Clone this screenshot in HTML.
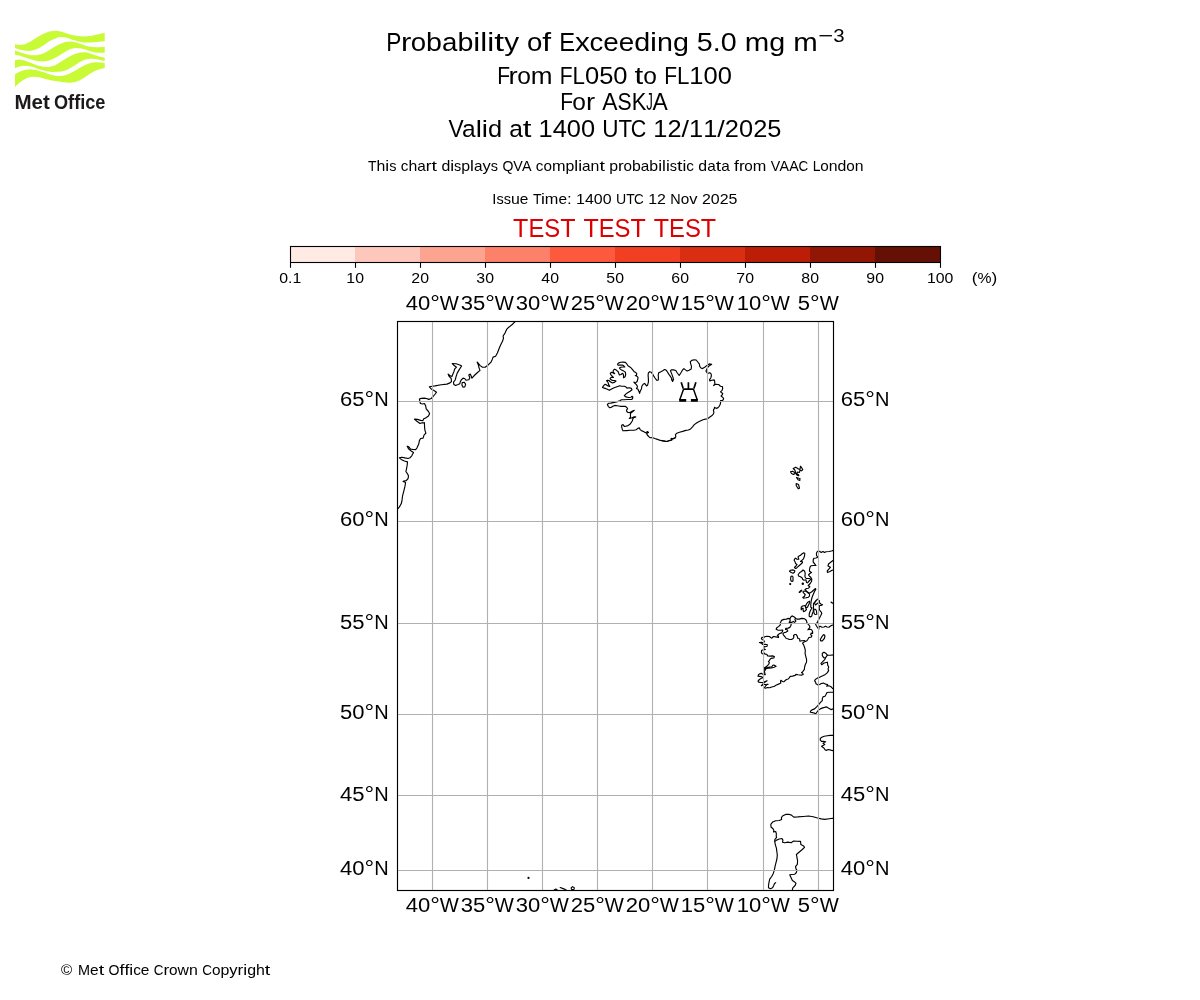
<!DOCTYPE html>
<html lang="en"><head><meta charset="utf-8"><title>Probability of Exceeding 5.0 mg m-3</title>
<style>
html,body{margin:0;padding:0;background:#fff;}
body{width:1200px;height:1000px;overflow:hidden;font-family:"Liberation Sans",sans-serif;}
svg{display:block;position:absolute;left:0;top:0;will-change:transform;}
text{font-family:"Liberation Sans",sans-serif;fill:#000;}
.c{fill:none;stroke:#000;stroke-width:1.15;stroke-linejoin:round;stroke-linecap:round;}
.g{stroke:#b0b0b0;stroke-width:1.1;fill:none;}
</style></head><body>
<svg width="1200" height="1000" viewBox="0 0 1200 1000">
<rect x="0" y="0" width="1200" height="1000" fill="#ffffff"/>
<g fill="#c8fa36">
<path d="M15.0 44.3 L19.4 45.1 L24.4 44.4 L30.6 41.6 L36.8 37.6 L43.0 33.9 L49.2 31.4 L55.4 30.8 L58.0 31.1 L61.7 31.7 L66.1 33.3 L71.6 35.1 L77.9 36.1 L84.1 36.4 L90.3 35.9 L96.5 34.8 L101.4 33.6 L104.7 32.7 L104.7 41.3 L101.4 41.6 L96.5 42.0 L90.3 42.4 L84.1 42.4 L77.9 41.3 L71.6 39.5 L66.1 37.6 L61.7 37.0 L58.0 37.2 L57.9 37.4 L54.2 38.9 L49.2 41.3 L44.3 44.7 L39.3 47.9 L34.3 50.0 L29.4 51.0 L24.4 50.6 L19.4 49.4 L15.0 47.9Z"/>
<path d="M15.0 50.6 L19.4 51.9 L24.4 53.7 L30.6 55.3 L36.8 55.3 L43.0 53.7 L49.2 50.3 L55.4 46.3 L58.0 45.1 L61.7 43.2 L66.1 41.8 L71.6 41.5 L76.6 42.4 L81.6 44.3 L86.5 46.0 L91.5 46.9 L97.7 47.2 L104.7 47.1 L104.7 52.8 L100.2 52.8 L95.2 52.5 L90.3 51.3 L85.3 49.4 L80.3 48.2 L75.4 48.0 L70.4 49.1 L66.1 51.3 L61.7 54.1 L58.0 56.2 L55.4 57.8 L49.2 60.6 L43.0 61.5 L36.8 60.9 L30.6 59.3 L24.4 57.2 L19.4 55.6 L15.0 54.7Z"/>
<path d="M15.0 59.9 L19.4 59.6 L24.4 60.6 L30.6 62.7 L36.8 65.2 L43.0 66.8 L49.2 67.1 L55.4 65.2 L58.0 63.4 L61.7 61.2 L66.1 58.4 L70.4 55.9 L75.4 53.7 L80.3 52.5 L85.3 52.3 L90.3 53.4 L95.2 55.3 L100.2 56.8 L104.7 57.8 L104.7 60.9 L100.2 59.9 L95.2 59.0 L90.3 58.7 L85.3 59.6 L80.3 61.8 L75.4 64.9 L70.4 68.0 L66.1 70.2 L61.7 71.4 L58.0 71.7 L57.9 71.7 L51.7 72.0 L45.5 71.1 L39.3 69.3 L33.1 67.1 L28.1 66.0 L23.2 65.8 L18.2 66.8 L15.0 68.3Z"/>
<path d="M15.0 74.2 L19.4 71.7 L24.4 69.9 L30.6 69.3 L36.8 70.2 L43.0 72.0 L49.2 74.2 L55.4 75.8 L58.0 76.1 L61.7 76.1 L66.1 75.1 L70.4 73.3 L75.4 70.5 L80.3 67.4 L85.3 64.9 L90.3 63.0 L95.2 62.2 L100.2 62.4 L104.7 63.0 L104.7 68.0 L100.2 68.9 L95.2 70.8 L90.3 73.6 L85.3 77.0 L80.3 80.1 L75.4 82.0 L70.4 82.7 L66.1 82.6 L61.7 82.0 L58.0 81.3 L57.9 81.3 L51.7 80.4 L45.5 78.9 L39.3 77.3 L33.1 76.7 L28.1 77.6 L23.2 80.1 L18.2 83.8 L15.0 86.9Z"/>
</g>
<text x="14.5" y="109.0" font-size="20.8" font-weight="bold" style="fill:#1c1a1a" textLength="35.4" lengthAdjust="spacingAndGlyphs">Met</text>
<text x="54.0" y="109.0" font-size="20.8" font-weight="bold" style="fill:#1c1a1a" textLength="51.4" lengthAdjust="spacingAndGlyphs">Office</text>
<text x="386.29" y="51.00" font-size="26.40" textLength="15.14" lengthAdjust="spacingAndGlyphs">P</text>
<text x="400.98" y="51.00" font-size="26.40" textLength="10.32" lengthAdjust="spacingAndGlyphs">r</text>
<text x="410.76" y="51.00" font-size="26.40" textLength="15.36" lengthAdjust="spacingAndGlyphs">o</text>
<text x="426.12" y="51.00" font-size="26.40" textLength="15.94" lengthAdjust="spacingAndGlyphs">b</text>
<text x="442.05" y="51.00" font-size="26.40" textLength="15.39" lengthAdjust="spacingAndGlyphs">a</text>
<text x="457.44" y="51.00" font-size="26.40" textLength="15.94" lengthAdjust="spacingAndGlyphs">b</text>
<text x="473.38" y="51.00" font-size="26.40" textLength="6.98" lengthAdjust="spacingAndGlyphs">i</text>
<text x="480.35" y="51.00" font-size="26.40" textLength="6.98" lengthAdjust="spacingAndGlyphs">l</text>
<text x="487.33" y="51.00" font-size="26.40" textLength="6.98" lengthAdjust="spacingAndGlyphs">i</text>
<text x="494.30" y="51.00" font-size="26.40" textLength="9.84" lengthAdjust="spacingAndGlyphs">t</text>
<text x="504.15" y="51.00" font-size="26.40" textLength="14.86" lengthAdjust="spacingAndGlyphs">y</text>
<text x="526.99" y="51.00" font-size="26.40" textLength="15.36" lengthAdjust="spacingAndGlyphs">o</text>
<text x="542.35" y="51.00" font-size="26.40" textLength="8.84" lengthAdjust="spacingAndGlyphs">f</text>
<text x="559.17" y="51.00" font-size="26.40" textLength="15.86" lengthAdjust="spacingAndGlyphs">E</text>
<text x="575.03" y="51.00" font-size="26.40" textLength="14.86" lengthAdjust="spacingAndGlyphs">x</text>
<text x="589.45" y="51.00" font-size="26.40" textLength="13.80" lengthAdjust="spacingAndGlyphs">c</text>
<text x="603.25" y="51.00" font-size="26.40" textLength="15.45" lengthAdjust="spacingAndGlyphs">e</text>
<text x="618.70" y="51.00" font-size="26.40" textLength="15.45" lengthAdjust="spacingAndGlyphs">e</text>
<text x="634.15" y="51.00" font-size="26.40" textLength="15.94" lengthAdjust="spacingAndGlyphs">d</text>
<text x="650.08" y="51.00" font-size="26.40" textLength="6.98" lengthAdjust="spacingAndGlyphs">i</text>
<text x="657.06" y="51.00" font-size="26.40" textLength="15.91" lengthAdjust="spacingAndGlyphs">n</text>
<text x="672.97" y="51.00" font-size="26.40" textLength="15.94" lengthAdjust="spacingAndGlyphs">g</text>
<text x="696.89" y="51.00" font-size="26.40" textLength="15.97" lengthAdjust="spacingAndGlyphs">5</text>
<text x="712.86" y="51.00" font-size="26.40" textLength="7.98" lengthAdjust="spacingAndGlyphs">.</text>
<text x="720.85" y="51.00" font-size="26.40" textLength="15.97" lengthAdjust="spacingAndGlyphs">0</text>
<text x="744.80" y="51.00" font-size="26.40" textLength="24.46" lengthAdjust="spacingAndGlyphs">m</text>
<text x="769.26" y="51.00" font-size="26.40" textLength="15.94" lengthAdjust="spacingAndGlyphs">g</text>
<text x="793.18" y="51.00" font-size="26.40" textLength="24.46" lengthAdjust="spacingAndGlyphs">m</text>
<text x="818.31" y="42.00" font-size="18.80" textLength="14.96" lengthAdjust="spacingAndGlyphs">−</text>
<text x="833.27" y="42.00" font-size="18.80" textLength="11.36" lengthAdjust="spacingAndGlyphs">3</text>
<text x="497.31" y="84.00" font-size="23.70" textLength="12.83" lengthAdjust="spacingAndGlyphs">F</text>
<text x="508.52" y="84.00" font-size="23.70" textLength="9.17" lengthAdjust="spacingAndGlyphs">r</text>
<text x="517.20" y="84.00" font-size="23.70" textLength="13.65" lengthAdjust="spacingAndGlyphs">o</text>
<text x="530.86" y="84.00" font-size="23.70" textLength="21.74" lengthAdjust="spacingAndGlyphs">m</text>
<text x="559.69" y="84.00" font-size="23.70" textLength="12.83" lengthAdjust="spacingAndGlyphs">F</text>
<text x="572.52" y="84.00" font-size="23.70" textLength="12.43" lengthAdjust="spacingAndGlyphs">L</text>
<text x="584.95" y="84.00" font-size="23.70" textLength="14.20" lengthAdjust="spacingAndGlyphs">0</text>
<text x="599.15" y="84.00" font-size="23.70" textLength="14.20" lengthAdjust="spacingAndGlyphs">5</text>
<text x="613.34" y="84.00" font-size="23.70" textLength="14.20" lengthAdjust="spacingAndGlyphs">0</text>
<text x="634.63" y="84.00" font-size="23.70" textLength="8.75" lengthAdjust="spacingAndGlyphs">t</text>
<text x="643.38" y="84.00" font-size="23.70" textLength="13.65" lengthAdjust="spacingAndGlyphs">o</text>
<text x="664.13" y="84.00" font-size="23.70" textLength="12.83" lengthAdjust="spacingAndGlyphs">F</text>
<text x="676.96" y="84.00" font-size="23.70" textLength="12.43" lengthAdjust="spacingAndGlyphs">L</text>
<text x="689.39" y="84.00" font-size="23.70" textLength="14.20" lengthAdjust="spacingAndGlyphs">1</text>
<text x="703.59" y="84.00" font-size="23.70" textLength="14.20" lengthAdjust="spacingAndGlyphs">0</text>
<text x="717.79" y="84.00" font-size="23.70" textLength="14.20" lengthAdjust="spacingAndGlyphs">0</text>
<text x="560.31" y="110.00" font-size="23.70" textLength="12.82" lengthAdjust="spacingAndGlyphs">F</text>
<text x="572.34" y="110.00" font-size="23.70" textLength="13.64" lengthAdjust="spacingAndGlyphs">o</text>
<text x="585.98" y="110.00" font-size="23.70" textLength="9.17" lengthAdjust="spacingAndGlyphs">r</text>
<text x="602.23" y="110.00" font-size="23.70" textLength="15.25" lengthAdjust="spacingAndGlyphs">A</text>
<text x="617.48" y="110.00" font-size="23.70" textLength="14.15" lengthAdjust="spacingAndGlyphs">S</text>
<text x="631.63" y="110.00" font-size="23.70" textLength="14.62" lengthAdjust="spacingAndGlyphs">K</text>
<text x="646.25" y="110.00" font-size="23.70" textLength="6.57" lengthAdjust="spacingAndGlyphs">J</text>
<text x="652.43" y="110.00" font-size="23.70" textLength="15.25" lengthAdjust="spacingAndGlyphs">A</text>
<text x="448.58" y="137.00" font-size="23.70" textLength="15.20" lengthAdjust="spacingAndGlyphs">V</text>
<text x="462.05" y="137.00" font-size="23.70" textLength="13.62" lengthAdjust="spacingAndGlyphs">a</text>
<text x="475.67" y="137.00" font-size="23.70" textLength="6.17" lengthAdjust="spacingAndGlyphs">l</text>
<text x="481.85" y="137.00" font-size="23.70" textLength="6.17" lengthAdjust="spacingAndGlyphs">i</text>
<text x="488.02" y="137.00" font-size="23.70" textLength="14.11" lengthAdjust="spacingAndGlyphs">d</text>
<text x="509.20" y="137.00" font-size="23.70" textLength="13.62" lengthAdjust="spacingAndGlyphs">a</text>
<text x="522.82" y="137.00" font-size="23.70" textLength="8.71" lengthAdjust="spacingAndGlyphs">t</text>
<text x="538.59" y="137.00" font-size="23.70" textLength="14.14" lengthAdjust="spacingAndGlyphs">1</text>
<text x="552.73" y="137.00" font-size="23.70" textLength="14.14" lengthAdjust="spacingAndGlyphs">4</text>
<text x="566.88" y="137.00" font-size="23.70" textLength="14.14" lengthAdjust="spacingAndGlyphs">0</text>
<text x="581.02" y="137.00" font-size="23.70" textLength="14.14" lengthAdjust="spacingAndGlyphs">0</text>
<text x="602.22" y="137.00" font-size="23.70" textLength="16.27" lengthAdjust="spacingAndGlyphs">U</text>
<text x="618.49" y="137.00" font-size="23.70" textLength="13.58" lengthAdjust="spacingAndGlyphs">T</text>
<text x="630.76" y="137.00" font-size="23.70" textLength="15.52" lengthAdjust="spacingAndGlyphs">C</text>
<text x="653.34" y="137.00" font-size="23.70" textLength="14.14" lengthAdjust="spacingAndGlyphs">1</text>
<text x="667.48" y="137.00" font-size="23.70" textLength="14.14" lengthAdjust="spacingAndGlyphs">2</text>
<text x="681.62" y="137.00" font-size="23.70" textLength="7.49" lengthAdjust="spacingAndGlyphs">/</text>
<text x="689.11" y="137.00" font-size="23.70" textLength="14.14" lengthAdjust="spacingAndGlyphs">1</text>
<text x="703.25" y="137.00" font-size="23.70" textLength="14.14" lengthAdjust="spacingAndGlyphs">1</text>
<text x="717.39" y="137.00" font-size="23.70" textLength="7.49" lengthAdjust="spacingAndGlyphs">/</text>
<text x="724.88" y="137.00" font-size="23.70" textLength="14.14" lengthAdjust="spacingAndGlyphs">2</text>
<text x="739.02" y="137.00" font-size="23.70" textLength="14.14" lengthAdjust="spacingAndGlyphs">0</text>
<text x="753.16" y="137.00" font-size="23.70" textLength="14.14" lengthAdjust="spacingAndGlyphs">2</text>
<text x="767.30" y="137.00" font-size="23.70" textLength="14.14" lengthAdjust="spacingAndGlyphs">5</text>
<text x="368.04" y="171.00" font-size="14.30" textLength="8.49" lengthAdjust="spacingAndGlyphs">T</text>
<text x="376.53" y="171.00" font-size="14.30" textLength="8.81" lengthAdjust="spacingAndGlyphs">h</text>
<text x="385.34" y="171.00" font-size="14.30" textLength="3.86" lengthAdjust="spacingAndGlyphs">i</text>
<text x="389.20" y="171.00" font-size="14.30" textLength="7.24" lengthAdjust="spacingAndGlyphs">s</text>
<text x="400.86" y="171.00" font-size="14.30" textLength="7.64" lengthAdjust="spacingAndGlyphs">c</text>
<text x="408.50" y="171.00" font-size="14.30" textLength="8.81" lengthAdjust="spacingAndGlyphs">h</text>
<text x="417.30" y="171.00" font-size="14.30" textLength="8.52" lengthAdjust="spacingAndGlyphs">a</text>
<text x="425.82" y="171.00" font-size="14.30" textLength="5.71" lengthAdjust="spacingAndGlyphs">r</text>
<text x="431.53" y="171.00" font-size="14.30" textLength="5.45" lengthAdjust="spacingAndGlyphs">t</text>
<text x="441.40" y="171.00" font-size="14.30" textLength="8.82" lengthAdjust="spacingAndGlyphs">d</text>
<text x="450.22" y="171.00" font-size="14.30" textLength="3.86" lengthAdjust="spacingAndGlyphs">i</text>
<text x="454.08" y="171.00" font-size="14.30" textLength="7.24" lengthAdjust="spacingAndGlyphs">s</text>
<text x="461.32" y="171.00" font-size="14.30" textLength="8.82" lengthAdjust="spacingAndGlyphs">p</text>
<text x="470.14" y="171.00" font-size="14.30" textLength="3.86" lengthAdjust="spacingAndGlyphs">l</text>
<text x="474.00" y="171.00" font-size="14.30" textLength="8.52" lengthAdjust="spacingAndGlyphs">a</text>
<text x="482.52" y="171.00" font-size="14.30" textLength="8.22" lengthAdjust="spacingAndGlyphs">y</text>
<text x="490.74" y="171.00" font-size="14.30" textLength="7.24" lengthAdjust="spacingAndGlyphs">s</text>
<text x="502.40" y="171.00" font-size="14.30" textLength="10.94" lengthAdjust="spacingAndGlyphs">Q</text>
<text x="513.34" y="171.00" font-size="14.30" textLength="9.51" lengthAdjust="spacingAndGlyphs">V</text>
<text x="521.96" y="171.00" font-size="14.30" textLength="9.51" lengthAdjust="spacingAndGlyphs">A</text>
<text x="535.88" y="171.00" font-size="14.30" textLength="7.64" lengthAdjust="spacingAndGlyphs">c</text>
<text x="543.52" y="171.00" font-size="14.30" textLength="8.50" lengthAdjust="spacingAndGlyphs">o</text>
<text x="552.02" y="171.00" font-size="14.30" textLength="13.54" lengthAdjust="spacingAndGlyphs">m</text>
<text x="565.56" y="171.00" font-size="14.30" textLength="8.82" lengthAdjust="spacingAndGlyphs">p</text>
<text x="574.38" y="171.00" font-size="14.30" textLength="3.86" lengthAdjust="spacingAndGlyphs">l</text>
<text x="578.24" y="171.00" font-size="14.30" textLength="3.86" lengthAdjust="spacingAndGlyphs">i</text>
<text x="582.10" y="171.00" font-size="14.30" textLength="8.52" lengthAdjust="spacingAndGlyphs">a</text>
<text x="590.62" y="171.00" font-size="14.30" textLength="8.81" lengthAdjust="spacingAndGlyphs">n</text>
<text x="599.43" y="171.00" font-size="14.30" textLength="5.45" lengthAdjust="spacingAndGlyphs">t</text>
<text x="609.29" y="171.00" font-size="14.30" textLength="8.82" lengthAdjust="spacingAndGlyphs">p</text>
<text x="618.11" y="171.00" font-size="14.30" textLength="5.71" lengthAdjust="spacingAndGlyphs">r</text>
<text x="623.52" y="171.00" font-size="14.30" textLength="8.50" lengthAdjust="spacingAndGlyphs">o</text>
<text x="632.02" y="171.00" font-size="14.30" textLength="8.82" lengthAdjust="spacingAndGlyphs">b</text>
<text x="640.84" y="171.00" font-size="14.30" textLength="8.52" lengthAdjust="spacingAndGlyphs">a</text>
<text x="649.36" y="171.00" font-size="14.30" textLength="8.82" lengthAdjust="spacingAndGlyphs">b</text>
<text x="658.18" y="171.00" font-size="14.30" textLength="3.86" lengthAdjust="spacingAndGlyphs">i</text>
<text x="662.04" y="171.00" font-size="14.30" textLength="3.86" lengthAdjust="spacingAndGlyphs">l</text>
<text x="665.90" y="171.00" font-size="14.30" textLength="3.86" lengthAdjust="spacingAndGlyphs">i</text>
<text x="669.76" y="171.00" font-size="14.30" textLength="7.24" lengthAdjust="spacingAndGlyphs">s</text>
<text x="677.00" y="171.00" font-size="14.30" textLength="5.45" lengthAdjust="spacingAndGlyphs">t</text>
<text x="682.45" y="171.00" font-size="14.30" textLength="3.86" lengthAdjust="spacingAndGlyphs">i</text>
<text x="686.31" y="171.00" font-size="14.30" textLength="7.64" lengthAdjust="spacingAndGlyphs">c</text>
<text x="698.37" y="171.00" font-size="14.30" textLength="8.82" lengthAdjust="spacingAndGlyphs">d</text>
<text x="707.19" y="171.00" font-size="14.30" textLength="8.52" lengthAdjust="spacingAndGlyphs">a</text>
<text x="715.71" y="171.00" font-size="14.30" textLength="5.45" lengthAdjust="spacingAndGlyphs">t</text>
<text x="721.16" y="171.00" font-size="14.30" textLength="8.52" lengthAdjust="spacingAndGlyphs">a</text>
<text x="734.09" y="171.00" font-size="14.30" textLength="4.89" lengthAdjust="spacingAndGlyphs">f</text>
<text x="738.98" y="171.00" font-size="14.30" textLength="5.71" lengthAdjust="spacingAndGlyphs">r</text>
<text x="744.39" y="171.00" font-size="14.30" textLength="8.50" lengthAdjust="spacingAndGlyphs">o</text>
<text x="752.89" y="171.00" font-size="14.30" textLength="13.54" lengthAdjust="spacingAndGlyphs">m</text>
<text x="770.85" y="171.00" font-size="14.30" textLength="9.51" lengthAdjust="spacingAndGlyphs">V</text>
<text x="779.47" y="171.00" font-size="14.30" textLength="9.51" lengthAdjust="spacingAndGlyphs">A</text>
<text x="789.36" y="171.00" font-size="14.30" textLength="9.51" lengthAdjust="spacingAndGlyphs">A</text>
<text x="798.62" y="171.00" font-size="14.30" textLength="9.70" lengthAdjust="spacingAndGlyphs">C</text>
<text x="812.74" y="171.00" font-size="14.30" textLength="7.74" lengthAdjust="spacingAndGlyphs">L</text>
<text x="820.24" y="171.00" font-size="14.30" textLength="8.50" lengthAdjust="spacingAndGlyphs">o</text>
<text x="828.74" y="171.00" font-size="14.30" textLength="8.81" lengthAdjust="spacingAndGlyphs">n</text>
<text x="837.55" y="171.00" font-size="14.30" textLength="8.82" lengthAdjust="spacingAndGlyphs">d</text>
<text x="846.37" y="171.00" font-size="14.30" textLength="8.50" lengthAdjust="spacingAndGlyphs">o</text>
<text x="854.87" y="171.00" font-size="14.30" textLength="8.81" lengthAdjust="spacingAndGlyphs">n</text>
<text x="492.38" y="204.00" font-size="14.30" textLength="4.11" lengthAdjust="spacingAndGlyphs">I</text>
<text x="496.49" y="204.00" font-size="14.30" textLength="7.27" lengthAdjust="spacingAndGlyphs">s</text>
<text x="503.76" y="204.00" font-size="14.30" textLength="7.27" lengthAdjust="spacingAndGlyphs">s</text>
<text x="511.03" y="204.00" font-size="14.30" textLength="8.84" lengthAdjust="spacingAndGlyphs">u</text>
<text x="519.87" y="204.00" font-size="14.30" textLength="8.58" lengthAdjust="spacingAndGlyphs">e</text>
<text x="532.88" y="204.00" font-size="14.30" textLength="8.52" lengthAdjust="spacingAndGlyphs">T</text>
<text x="540.97" y="204.00" font-size="14.30" textLength="3.87" lengthAdjust="spacingAndGlyphs">i</text>
<text x="544.84" y="204.00" font-size="14.30" textLength="13.59" lengthAdjust="spacingAndGlyphs">m</text>
<text x="558.43" y="204.00" font-size="14.30" textLength="8.58" lengthAdjust="spacingAndGlyphs">e</text>
<text x="567.01" y="204.00" font-size="14.30" textLength="4.70" lengthAdjust="spacingAndGlyphs">:</text>
<text x="576.14" y="204.00" font-size="14.30" textLength="8.87" lengthAdjust="spacingAndGlyphs">1</text>
<text x="585.01" y="204.00" font-size="14.30" textLength="8.87" lengthAdjust="spacingAndGlyphs">4</text>
<text x="593.89" y="204.00" font-size="14.30" textLength="8.87" lengthAdjust="spacingAndGlyphs">0</text>
<text x="602.76" y="204.00" font-size="14.30" textLength="8.87" lengthAdjust="spacingAndGlyphs">0</text>
<text x="616.07" y="204.00" font-size="14.30" textLength="10.21" lengthAdjust="spacingAndGlyphs">U</text>
<text x="626.27" y="204.00" font-size="14.30" textLength="8.52" lengthAdjust="spacingAndGlyphs">T</text>
<text x="633.98" y="204.00" font-size="14.30" textLength="9.74" lengthAdjust="spacingAndGlyphs">C</text>
<text x="648.15" y="204.00" font-size="14.30" textLength="8.87" lengthAdjust="spacingAndGlyphs">1</text>
<text x="657.02" y="204.00" font-size="14.30" textLength="8.87" lengthAdjust="spacingAndGlyphs">2</text>
<text x="670.33" y="204.00" font-size="14.30" textLength="10.43" lengthAdjust="spacingAndGlyphs">N</text>
<text x="680.76" y="204.00" font-size="14.30" textLength="8.53" lengthAdjust="spacingAndGlyphs">o</text>
<text x="689.29" y="204.00" font-size="14.30" textLength="8.25" lengthAdjust="spacingAndGlyphs">v</text>
<text x="701.98" y="204.00" font-size="14.30" textLength="8.87" lengthAdjust="spacingAndGlyphs">2</text>
<text x="710.85" y="204.00" font-size="14.30" textLength="8.87" lengthAdjust="spacingAndGlyphs">0</text>
<text x="719.72" y="204.00" font-size="14.30" textLength="8.87" lengthAdjust="spacingAndGlyphs">2</text>
<text x="728.60" y="204.00" font-size="14.30" textLength="8.87" lengthAdjust="spacingAndGlyphs">5</text>
<text x="513.07" y="237.00" font-size="25.90" textLength="15.32" lengthAdjust="spacingAndGlyphs" style="fill:#dd0000">T</text>
<text x="528.39" y="237.00" font-size="25.90" textLength="15.84" lengthAdjust="spacingAndGlyphs" style="fill:#dd0000">E</text>
<text x="544.23" y="237.00" font-size="25.90" textLength="15.92" lengthAdjust="spacingAndGlyphs" style="fill:#dd0000">S</text>
<text x="560.15" y="237.00" font-size="25.90" textLength="15.32" lengthAdjust="spacingAndGlyphs" style="fill:#dd0000">T</text>
<text x="583.43" y="237.00" font-size="25.90" textLength="15.32" lengthAdjust="spacingAndGlyphs" style="fill:#dd0000">T</text>
<text x="598.75" y="237.00" font-size="25.90" textLength="15.84" lengthAdjust="spacingAndGlyphs" style="fill:#dd0000">E</text>
<text x="614.59" y="237.00" font-size="25.90" textLength="15.92" lengthAdjust="spacingAndGlyphs" style="fill:#dd0000">S</text>
<text x="630.50" y="237.00" font-size="25.90" textLength="15.32" lengthAdjust="spacingAndGlyphs" style="fill:#dd0000">T</text>
<text x="653.79" y="237.00" font-size="25.90" textLength="15.32" lengthAdjust="spacingAndGlyphs" style="fill:#dd0000">T</text>
<text x="669.10" y="237.00" font-size="25.90" textLength="15.84" lengthAdjust="spacingAndGlyphs" style="fill:#dd0000">E</text>
<text x="684.95" y="237.00" font-size="25.90" textLength="15.92" lengthAdjust="spacingAndGlyphs" style="fill:#dd0000">S</text>
<text x="700.86" y="237.00" font-size="25.90" textLength="15.32" lengthAdjust="spacingAndGlyphs" style="fill:#dd0000">T</text>
<rect x="290.00" y="246.00" width="65.30" height="17.00" fill="#ffebe4"/>
<rect x="355.00" y="246.00" width="65.30" height="17.00" fill="#fec7bb"/>
<rect x="420.00" y="246.00" width="65.30" height="17.00" fill="#fda491"/>
<rect x="485.00" y="246.00" width="65.30" height="17.00" fill="#fd8169"/>
<rect x="550.00" y="246.00" width="65.30" height="17.00" fill="#fd5a3d"/>
<rect x="615.00" y="246.00" width="65.30" height="17.00" fill="#f13f21"/>
<rect x="680.00" y="246.00" width="65.30" height="17.00" fill="#d92e11"/>
<rect x="745.00" y="246.00" width="65.30" height="17.00" fill="#bb1d06"/>
<rect x="810.00" y="246.00" width="65.30" height="17.00" fill="#921604"/>
<rect x="875.00" y="246.00" width="66.00" height="17.00" fill="#651005"/>
<rect x="290.50" y="246.50" width="650.00" height="16.00" fill="none" stroke="#000" stroke-width="1.1"/>
<line x1="290.50" y1="262.50" x2="290.50" y2="267.80" stroke="#000" stroke-width="1.1"/>
<text x="279.19" y="283.00" font-size="14.20" textLength="8.81" lengthAdjust="spacingAndGlyphs">0</text>
<text x="288.00" y="283.00" font-size="14.20" textLength="4.40" lengthAdjust="spacingAndGlyphs">.</text>
<text x="292.40" y="283.00" font-size="14.20" textLength="8.81" lengthAdjust="spacingAndGlyphs">1</text>
<line x1="355.50" y1="262.50" x2="355.50" y2="267.80" stroke="#000" stroke-width="1.1"/>
<text x="346.39" y="283.00" font-size="14.20" textLength="8.81" lengthAdjust="spacingAndGlyphs">1</text>
<text x="355.20" y="283.00" font-size="14.20" textLength="8.81" lengthAdjust="spacingAndGlyphs">0</text>
<line x1="420.50" y1="262.50" x2="420.50" y2="267.80" stroke="#000" stroke-width="1.1"/>
<text x="411.39" y="283.00" font-size="14.20" textLength="8.81" lengthAdjust="spacingAndGlyphs">2</text>
<text x="420.20" y="283.00" font-size="14.20" textLength="8.81" lengthAdjust="spacingAndGlyphs">0</text>
<line x1="485.50" y1="262.50" x2="485.50" y2="267.80" stroke="#000" stroke-width="1.1"/>
<text x="476.39" y="283.00" font-size="14.20" textLength="8.81" lengthAdjust="spacingAndGlyphs">3</text>
<text x="485.20" y="283.00" font-size="14.20" textLength="8.81" lengthAdjust="spacingAndGlyphs">0</text>
<line x1="550.50" y1="262.50" x2="550.50" y2="267.80" stroke="#000" stroke-width="1.1"/>
<text x="541.39" y="283.00" font-size="14.20" textLength="8.81" lengthAdjust="spacingAndGlyphs">4</text>
<text x="550.20" y="283.00" font-size="14.20" textLength="8.81" lengthAdjust="spacingAndGlyphs">0</text>
<line x1="615.50" y1="262.50" x2="615.50" y2="267.80" stroke="#000" stroke-width="1.1"/>
<text x="606.39" y="283.00" font-size="14.20" textLength="8.81" lengthAdjust="spacingAndGlyphs">5</text>
<text x="615.20" y="283.00" font-size="14.20" textLength="8.81" lengthAdjust="spacingAndGlyphs">0</text>
<line x1="680.50" y1="262.50" x2="680.50" y2="267.80" stroke="#000" stroke-width="1.1"/>
<text x="671.39" y="283.00" font-size="14.20" textLength="8.81" lengthAdjust="spacingAndGlyphs">6</text>
<text x="680.20" y="283.00" font-size="14.20" textLength="8.81" lengthAdjust="spacingAndGlyphs">0</text>
<line x1="745.50" y1="262.50" x2="745.50" y2="267.80" stroke="#000" stroke-width="1.1"/>
<text x="736.39" y="283.00" font-size="14.20" textLength="8.81" lengthAdjust="spacingAndGlyphs">7</text>
<text x="745.20" y="283.00" font-size="14.20" textLength="8.81" lengthAdjust="spacingAndGlyphs">0</text>
<line x1="810.50" y1="262.50" x2="810.50" y2="267.80" stroke="#000" stroke-width="1.1"/>
<text x="801.39" y="283.00" font-size="14.20" textLength="8.81" lengthAdjust="spacingAndGlyphs">8</text>
<text x="810.20" y="283.00" font-size="14.20" textLength="8.81" lengthAdjust="spacingAndGlyphs">0</text>
<line x1="875.50" y1="262.50" x2="875.50" y2="267.80" stroke="#000" stroke-width="1.1"/>
<text x="866.39" y="283.00" font-size="14.20" textLength="8.81" lengthAdjust="spacingAndGlyphs">9</text>
<text x="875.20" y="283.00" font-size="14.20" textLength="8.81" lengthAdjust="spacingAndGlyphs">0</text>
<line x1="940.50" y1="262.50" x2="940.50" y2="267.80" stroke="#000" stroke-width="1.1"/>
<text x="926.98" y="283.00" font-size="14.20" textLength="8.81" lengthAdjust="spacingAndGlyphs">1</text>
<text x="935.79" y="283.00" font-size="14.20" textLength="8.81" lengthAdjust="spacingAndGlyphs">0</text>
<text x="944.61" y="283.00" font-size="14.20" textLength="8.81" lengthAdjust="spacingAndGlyphs">0</text>
<text x="971.73" y="283.00" font-size="14.20" textLength="5.76" lengthAdjust="spacingAndGlyphs">(</text>
<text x="977.49" y="283.00" font-size="14.20" textLength="14.02" lengthAdjust="spacingAndGlyphs">%</text>
<text x="991.51" y="283.00" font-size="14.20" textLength="5.76" lengthAdjust="spacingAndGlyphs">)</text>
<clipPath id="mapclip"><rect x="397.50" y="321.50" width="436.00" height="569.00"/></clipPath>
<g clip-path="url(#mapclip)">
<g class="c">
<path d="M515.6 321.0 L511.9 324.8 L508.1 327.8 L506.6 329.4 L505.0 333.1 L503.1 336.0 L503.5 338.1 L502.5 341.2 L500.6 345.0 L499.0 348.8 L497.5 352.8 L495.6 356.2 L493.1 357.1 L492.2 359.4 L491.0 362.2 L488.1 365.0 L485.2 367.2 L482.5 367.2 L480.2 365.6 L478.5 363.5 L477.1 362.1 L478.4 365.0 L479.1 368.1 L480.0 370.4 L477.5 372.5 L474.8 375.0 L471.9 378.1 L471.2 376.0 L470.2 374.1 L468.8 375.0 L469.8 377.8 L468.8 379.8 L466.0 380.2 L464.6 378.5 L463.1 378.1 L461.2 380.0 L460.2 381.9 L459.8 383.8 L457.5 384.8 L455.6 385.4 L453.8 384.4 L453.5 382.1 L455.2 380.0 L456.0 376.9 L457.2 373.1 L459.4 369.4 L461.6 366.0 L460.4 365.2 L456.2 363.8 L452.2 363.5 L453.8 365.2 L456.5 367.2 L454.8 368.8 L453.8 371.9 L452.5 375.0 L451.9 376.5 L449.8 375.4 L448.1 374.1 L449.0 376.2 L451.2 378.5 L451.5 381.5 L450.0 382.9 L446.9 384.1 L441.2 384.8 L435.0 385.9 L430.6 386.5 L429.4 386.9 L431.2 389.0 L434.0 390.6 L436.5 392.2 L435.2 394.0 L433.1 396.5 L431.2 398.5 L428.8 399.4 L426.5 398.5 L424.4 398.1 L421.2 398.4 L419.4 399.0 L419.8 401.2 L420.4 403.5 L422.5 404.0 L424.4 403.5 L425.6 405.6 L426.2 408.8 L428.1 411.0 L429.6 413.5 L428.5 416.0 L425.6 417.9 L423.8 418.8 L422.8 420.6 L420.6 420.4 L417.5 419.4 L414.4 419.1 L416.9 421.2 L420.0 423.5 L421.9 422.8 L424.4 422.8"/>
<path d="M462.2 382.5 L464.4 382.2 L465.6 384.4 L464.8 386.9 L462.9 387.1 L461.9 385.0Z"/>
<path d="M424.4 422.8 L424.6 427.5 L425.0 430.6 L425.9 433.1 L424.0 435.2 L423.1 438.1 L420.6 438.5 L419.4 440.6 L418.8 443.8 L416.9 448.1 L415.6 449.6 L412.5 449.4 L410.6 449.0 L408.8 446.9 L407.2 446.2 L408.5 448.8 L411.2 451.0 L413.5 452.5 L411.9 455.6 L410.0 457.8 L408.1 458.5 L405.0 457.9 L401.9 457.2 L399.4 457.8 L401.2 459.4 L404.4 461.0 L407.5 461.9 L407.2 465.0 L406.5 468.8 L405.9 471.5 L407.5 473.8 L408.5 476.0 L408.1 478.5 L406.2 480.6 L403.8 481.0 L403.1 481.5 L405.6 482.5 L405.0 486.2 L403.8 491.2 L402.5 496.2 L401.9 501.2 L401.2 503.8 L399.4 506.9 L396.9 510.0"/>
<path d="M602.5 387.5 L603.4 385.9 L604.9 384.3 L606.5 384.9 L608.1 385.9 L609.7 386.5 L608.7 384.6 L608.1 382.7 L607.5 381.5 L606.5 380.8 L607.5 380.2 L609.0 380.5 L610.3 381.8 L612.5 383.0 L614.7 382.1 L616.0 381.0 L614.7 380.5 L612.8 380.5 L611.2 379.9 L610.0 378.6 L611.2 377.4 L613.4 377.4 L612.2 376.1 L610.9 374.9 L610.3 373.3 L611.6 372.3 L613.1 373.0 L614.7 373.6 L613.1 372.0 L613.4 370.1 L614.7 369.2 L616.3 370.1 L618.2 371.7 L618.8 373.6 L619.4 374.9 L621.0 374.5 L622.3 373.3 L623.2 373.9 L623.5 375.8 L623.5 377.7 L625.1 376.7 L625.7 374.5 L625.4 372.3 L623.8 371.1 L621.6 370.1 L620.1 368.9 L619.4 367.9 L620.7 367.3 L623.2 367.0 L624.8 367.0 L623.8 365.8 L622.3 365.1 L619.7 365.1 L617.9 365.1 L617.5 364.1 L618.8 362.9 L620.7 362.2 L623.2 362.1 L625.4 362.4 L626.7 363.8 L627.9 365.7 L629.5 366.7 L631.1 367.9 L632.7 369.8 L634.2 371.7 L635.8 372.6 L636.8 373.6 L636.4 375.2 L635.3 375.5 L636.8 376.1 L638.0 377.4 L637.7 379.6 L637.1 381.5 L635.8 382.7 L634.9 382.7 L633.9 382.1 L634.9 383.4 L636.4 384.6 L637.4 386.2 L637.1 387.8 L636.4 388.4 L638.0 389.3 L638.7 390.9 L639.6 393.4 L640.2 391.2 L641.5 388.7 L641.8 386.2 L643.1 384.3 L644.6 383.4 L645.6 384.6 L646.5 385.9 L647.5 385.3 L648.4 382.1 L648.4 378.9 L648.1 375.2 L648.4 373.0 L649.7 371.7 L651.3 372.3 L652.5 373.9 L653.8 376.1 L655.0 378.0 L656.6 380.2 L658.2 380.2 L658.5 378.3 L658.2 375.2 L658.8 372.6 L660.4 372.0 L662.3 371.1 L664.5 369.5 L665.8 369.8 L667.3 371.7 L668.6 373.9 L670.2 376.1 L671.4 378.0 L672.4 380.8"/>
<path d="M671.7 379.6 L672.6 381.5 L673.6 379.6 L672.9 377.1 L672.0 374.6 L671.0 372.1 L670.4 370.8 L671.3 369.9 L673.6 369.9 L675.8 370.5 L677.3 373.0 L679.2 375.5 L680.8 373.0 L682.4 370.2 L683.9 368.6 L685.5 369.9 L687.1 371.1 L689.0 370.2 L691.2 368.9 L691.5 366.4 L690.6 363.6 L690.3 361.7 L691.8 360.4 L694.3 359.8 L696.2 360.0 L697.8 362.0 L699.4 364.2 L699.7 366.4 L701.0 368.0 L702.5 368.6 L704.7 367.3 L707.0 365.4 L709.2 363.9 L711.7 364.2 L709.8 365.4 L708.2 366.7 L707.0 368.9 L706.0 371.1 L707.0 372.7 L708.2 373.3 L709.8 372.7 L711.1 373.9 L711.4 375.8 L710.7 378.0 L709.5 379.9 L709.8 380.9 L712.0 380.3 L714.2 379.9 L714.7 381.5 L714.8 384.0 L713.6 385.6 L715.5 384.3 L718.6 384.5 L720.5 386.2 L722.4 386.6 L722.7 388.4 L722.1 390.3 L720.5 391.9 L722.7 393.5 L722.4 394.7 L721.1 396.0 L723.0 397.6 L723.7 398.8 L722.7 400.4 L720.5 400.7"/>
<path d="M720.5 400.7 L720.6 402.2 L720.2 404.5 L719.2 406.3 L717.7 407.9 L716.1 408.4 L714.5 407.3 L714.3 408.6 L713.4 410.1 L713.9 412.3 L713.3 414.2 L711.7 415.8 L709.5 417.2 L707.6 418.8 L705.4 419.1 L702.9 419.7 L699.7 421.2 L696.9 422.7 L694.3 424.6 L692.5 426.8 L690.6 428.9 L688.4 430.0 L685.8 430.4 L682.7 431.4 L679.5 432.2 L676.7 433.3 L675.4 434.7 L675.8 436.6 L674.8 438.2 L672.9 439.0 L671.3 438.4 L671.7 439.9 L669.5 440.5 L666.6 441.5 L663.2 440.9 L660.0 440.3"/>
<path d="M675.0 437.9 L672.5 438.8 L671.2 438.5 L671.8 439.9 L669.3 440.7 L666.8 441.5 L663.0 440.9 L659.9 440.3 L657.4 439.4 L654.8 438.5 L652.3 437.5 L650.1 437.7 L648.8 436.6 L647.3 435.0 L646.6 433.4 L648.5 432.5 L647.6 431.6 L645.4 432.8 L643.8 431.6 L641.6 430.8 L640.0 429.3 L639.4 427.9 L637.8 428.4 L636.2 429.8 L634.0 430.2 L630.3 430.3 L626.5 430.6 L623.0 430.8 L622.4 429.7 L621.7 427.1 L621.7 425.3 L623.0 424.6 L624.3 426.4 L625.8 426.2 L628.0 425.6 L629.6 424.6 L631.2 422.7 L632.5 420.5 L632.8 418.8 L633.7 417.7 L635.8 416.9 L633.7 416.9 L631.5 418.0 L629.3 418.4 L630.6 417.1 L630.4 415.2 L630.6 413.2 L632.5 411.9 L634.3 410.4 L631.8 411.4 L629.9 412.6 L628.0 412.5 L626.8 411.5 L626.5 410.1 L627.6 408.6 L626.8 407.5 L625.2 406.3 L623.0 406.3 L620.2 406.3 L617.3 405.7 L614.8 405.4 L612.9 406.3 L611.0 407.5 L609.5 407.6 L608.2 406.3 L607.4 404.5 L608.5 403.3 L610.7 403.1 L614.2 402.4 L617.3 401.6 L619.9 400.7 L621.4 399.7 L623.9 399.7 L627.7 399.5 L631.5 399.5 L632.5 398.8 L632.8 396.9 L632.1 396.3 L630.9 397.2 L628.7 397.5 L625.8 396.9 L624.3 395.6"/>
<path d="M624.5 395.7 L625.7 394.1 L627.6 392.8 L630.1 391.2 L632.0 389.7 L631.4 388.4 L629.5 387.8 L627.0 388.1 L626.0 387.1 L624.5 386.2 L621.6 386.2 L619.7 385.8 L616.9 386.8 L614.1 387.8 L611.6 389.0 L609.3 390.3 L606.8 389.0 L604.3 388.1 L602.5 387.5"/>
<path d="M793.2 468.5 L795.8 467.2 L798.5 469.0 L800.0 469.5 L800.5 466.2 L802.8 469.5 L801.5 470.8 L800.0 470.2 L799.5 472.5 L797.5 472.0 L797.0 473.5 L796.0 473.5 L794.8 470.0Z"/>
<path d="M790.5 471.8 L792.5 471.2 L794.8 472.5 L795.0 473.5 L793.5 474.5 L791.5 473.5Z"/>
<path d="M796.0 473.8 L798.5 474.5 L798.8 475.8 L797.5 475.5Z"/>
<path d="M796.5 477.5 L798.8 478.2 L800.0 478.5 L799.8 480.5 L798.0 479.8Z"/>
<path d="M796.2 483.5 L798.5 484.5 L799.5 488.2 L798.2 488.8 L796.2 485.5Z"/>
<path d="M834.0 550.1 L831.5 551.0 L829.0 551.5 L826.0 551.8 L824.5 552.5 L823.0 551.5 L821.2 552.5 L819.5 551.2 L817.5 551.2 L816.5 553.0 L816.5 555.5 L817.8 557.2 L816.0 558.0 L813.8 558.2 L813.2 560.0 L813.2 562.2 L814.8 564.0 L816.0 565.5 L813.5 565.5 L811.0 565.8 L810.0 567.2 L809.5 569.5 L809.5 571.2 L811.5 572.5 L809.8 573.5 L808.5 575.0 L809.5 576.2 L810.8 577.2 L811.8 579.2 L811.5 581.5 L810.2 583.5 L808.2 585.5 L809.8 586.8 L808.5 588.2 L806.5 588.5 L805.2 589.5"/>
<path d="M803.0 570.0 L804.5 571.0 L805.2 573.2 L805.0 575.5 L805.0 577.0 L806.2 578.5 L810.0 578.5 L810.8 579.5 L809.5 580.5 L807.5 582.8 L806.5 582.5 L806.0 579.8 L804.0 580.2 L802.8 579.5 L802.2 578.0 L800.5 576.8 L798.5 576.0 L798.2 574.5 L799.8 572.5 L801.5 571.5Z"/>
<path d="M803.8 552.8 L804.8 553.5 L804.5 556.0 L803.5 558.8 L802.0 560.2 L800.5 561.5 L802.2 561.5 L802.5 562.5 L800.5 564.5 L798.5 566.2 L796.5 568.2 L795.5 568.5 L794.5 567.5 L796.0 566.0 L797.0 564.5 L795.5 563.5 L795.2 562.0 L794.2 560.5 L794.5 559.2 L795.5 558.2 L797.0 559.2 L798.8 559.2 L798.2 557.5 L798.2 556.5 L800.5 555.2 L802.2 553.8Z"/>
<path d="M789.5 571.2 L790.5 570.2 L793.2 569.9 L794.8 570.8 L794.5 572.2 L793.0 573.2 L791.2 572.5Z"/>
<path d="M791.0 576.2 L792.2 576.0 L793.0 577.0 L793.0 581.0 L792.0 581.5 L791.0 580.8 L790.6 579.0Z"/>
<path d="M834.0 559.8 L831.0 562.0 L828.5 564.0 L828.0 566.0 L830.5 567.2 L828.8 569.2 L827.2 571.0 L827.5 572.5 L830.0 571.5 L832.0 570.2 L834.0 569.9"/>
<path d="M805.2 589.5 L806.0 590.8 L807.5 592.0 L809.5 593.2 L811.5 592.0 L813.5 590.2 L815.5 588.5 L815.8 589.5 L814.5 591.5 L813.2 594.5 L812.0 597.5 L811.2 601.0 L810.8 604.5 L810.8 607.2 L812.0 608.0 L811.0 609.5 L810.0 611.5 L809.2 614.0 L809.2 616.2 L810.5 617.0 L811.8 616.0 L812.2 614.0 L813.2 611.8 L813.5 608.5 L813.5 605.5 L813.5 603.5 L815.5 601.0 L817.5 599.2 L816.0 601.0 L814.5 603.0 L815.5 605.0 L817.5 603.2"/>
<path d="M803.2 591.2 L805.0 591.1 L806.2 591.2 L807.5 592.5 L809.5 593.9 L809.5 596.0 L808.5 597.2 L806.0 597.8 L803.5 598.2 L802.8 597.5 L804.5 596.2 L805.2 594.5 L803.8 593.2 L803.0 592.2Z"/>
<path d="M799.2 592.2 L800.5 590.8 L801.8 590.2 L800.8 591.6 L799.6 592.5Z"/>
<path d="M809.5 601.2 L809.8 602.5 L808.5 605.0 L807.5 607.2 L806.0 607.8 L805.5 606.0 L806.5 604.0 L807.8 602.2Z"/>
<path d="M805.0 605.5 L805.5 607.2 L806.5 609.5 L805.0 611.0 L803.5 611.6 L803.0 609.5 L803.2 608.2 L802.2 608.2 L801.2 609.8 L801.2 607.2 L802.5 606.0Z"/>
<path d="M814.0 609.2 L815.5 609.2 L816.5 611.0 L816.8 614.2 L815.0 614.5 L814.0 613.0 L813.8 611.0Z"/>
<path d="M819.5 600.5 L819.2 602.5 L820.8 604.0 L822.5 604.8 L821.0 605.5 L819.5 605.5 L819.2 607.8 L819.5 610.0 L821.0 611.8 L821.8 613.2 L820.8 615.5 L819.5 618.0 L818.2 620.5 L817.2 622.8 L816.0 623.5 L815.5 624.0 L816.5 626.0 L817.8 628.0 L818.8 629.2 L819.0 626.5 L820.0 626.2 L822.0 627.2 L824.0 627.0 L825.5 626.2 L827.0 627.0 L829.0 627.2 L830.5 626.0 L832.0 625.2 L834.0 624.9"/>
<path d="M831.0 602.0 L832.5 603.2 L834.0 602.9"/>
<path d="M792.2 616.0 L793.9 616.7 L795.5 618.1 L796.9 619.1 L799.2 619.1 L801.6 618.4 L803.9 618.6 L805.6 619.4 L806.6 621.1 L806.9 622.7 L808.3 624.4 L809.6 625.8 L809.9 627.4 L808.6 628.8 L807.9 629.8 L809.9 629.3 L811.6 629.8 L812.6 631.5 L812.6 633.5 L811.3 633.1 L810.6 634.5 L812.0 635.8 L811.3 637.1 L808.9 637.5 L807.9 639.2 L806.9 640.8 L805.3 641.5 L803.6 642.2 L802.6 643.2 L803.6 644.9 L804.6 647.5 L805.3 650.2 L805.1 653.6 L805.9 656.9 L806.6 659.6 L806.5 662.3 L805.3 664.6 L804.6 667.0 L804.4 669.3 L802.9 671.3 L801.6 672.7"/>
<path d="M792.2 616.0 L790.8 617.0 L789.8 618.7 L788.2 618.4 L786.5 619.1 L783.8 619.4 L781.5 620.4 L780.5 622.4 L780.3 624.8 L778.8 626.4 L776.8 627.8 L776.1 629.3 L777.8 630.1 L780.1 630.2 L782.8 630.0 L782.5 631.5 L781.5 632.9 L779.1 633.8 L777.4 635.5 L778.5 636.5 L778.5 637.5 L775.8 636.9 L773.4 636.5 L771.8 638.2 L770.7 637.5 L769.4 636.5 L767.1 636.3 L764.7 636.8 L763.4 637.8 L762.0 637.3 L761.4 638.5 L762.0 639.5 L763.7 640.2 L764.4 641.8 L763.0 642.8 L761.4 642.2 L759.4 642.5 L761.4 643.2 L762.7 644.5 L765.1 644.2 L767.4 644.7 L767.1 646.2 L765.1 646.7 L764.0 646.5 L763.7 648.9 L765.4 649.5 L763.4 649.9 L761.7 650.2 L761.4 652.2 L762.0 653.6 L763.7 653.9 L764.4 653.2 L765.1 654.2 L766.7 654.2 L767.7 655.9 L770.1 656.1 L772.4 655.9 L774.4 656.6 L773.8 657.9 L771.1 658.4 L770.1 659.3 L769.1 660.9 L768.4 661.6 L769.4 662.6 L768.7 664.3 L767.4 665.6 L765.7 667.0 L764.0 668.0 L766.4 667.3 L769.4 667.1 L771.8 666.8 L772.8 665.3 L773.8 665.0 L776.1 666.3 L774.1 667.3 L771.4 668.0 L768.4 668.3 L765.7 668.6 L764.4 669.1 L765.7 669.6 L764.4 671.0 L764.7 673.0 L765.1 674.5"/>
<path d="M789.8 618.7 L790.2 620.7 L789.2 622.4 L791.5 622.4 L793.2 621.4 L794.5 622.4 L795.9 621.1 L794.9 619.7 L795.5 618.1"/>
<path d="M824.0 634.5 L825.0 636.1 L824.3 638.5 L822.3 640.8 L820.7 640.8 L820.3 639.5 L821.7 637.1 L822.7 635.5Z"/>
<path d="M822.3 653.2 L824.0 652.2 L825.7 653.2 L827.4 655.2 L825.4 657.9 L823.7 657.6 L822.3 655.6Z"/>
<path d="M827.4 655.2 L830.0 655.2 L834.1 654.8"/>
<path d="M801.6 672.6 L802.6 673.1 L803.2 674.4 L801.9 675.1 L799.6 675.0 L797.9 674.8 L795.9 674.4 L795.2 675.4 L792.5 676.1 L790.2 676.4 L789.2 677.8 L788.2 679.0 L786.5 679.5 L785.2 680.5 L783.8 681.8 L782.5 681.5 L780.8 680.3 L780.5 681.5 L780.8 683.1 L779.1 683.9 L776.4 685.0 L774.4 686.2 L771.8 687.0 L769.7 687.7 L767.4 687.5 L765.4 688.2 L764.4 687.8 L765.4 686.2 L766.7 684.8 L768.1 684.3 L765.7 684.5 L763.7 684.5 L761.4 685.7 L763.0 683.8 L765.1 682.1 L767.1 680.8 L765.1 681.5 L763.0 682.5 L760.7 682.5 L758.7 682.1 L758.0 681.1 L759.4 679.5 L761.4 678.3 L763.0 677.8 L761.7 676.8 L759.7 676.4 L758.0 676.3 L758.4 674.8 L760.0 673.6 L761.7 673.4 L763.0 674.4 L765.1 674.6"/>
<path d="M825.4 657.9 L824.7 659.7 L822.7 661.7 L821.0 663.4 L821.7 664.7 L824.0 663.0 L827.4 662.2 L827.7 665.1 L828.7 667.1 L828.0 669.1 L828.7 670.4 L827.4 672.6 L825.4 674.4 L822.7 675.8 L820.0 677.1 L817.3 678.1 L815.3 679.5 L814.6 680.8 L815.6 682.1 L816.0 683.8 L818.0 685.0 L819.7 684.5 L821.3 683.5 L823.3 683.1 L825.4 684.1 L827.7 684.5 L826.7 686.2 L828.7 685.8 L830.7 686.5 L832.4 688.2 L834.1 689.5"/>
<path d="M834.1 692.2 L830.0 692.2 L827.0 692.5 L826.0 694.5 L825.0 696.2 L823.0 696.9 L822.3 698.6 L822.3 700.6 L820.7 702.2 L818.7 704.6 L816.6 706.9 L814.6 708.9 L812.6 709.6 L810.6 710.9 L810.3 712.3 L812.3 712.6 L814.3 713.0 L815.6 714.0 L817.0 712.0 L818.3 710.3 L820.3 708.9 L822.7 707.9 L824.7 707.4 L826.7 706.9 L828.7 708.3 L831.0 709.6 L834.1 708.5"/>
<path d="M834.4 735.3 L830.2 735.4 L827.2 735.7 L824.2 736.3 L821.8 737.2 L820.3 738.4 L820.3 740.2 L821.5 741.4 L823.6 741.4 L825.7 741.7 L824.2 742.6 L823.0 743.2 L824.8 744.4 L823.6 745.3 L821.5 746.2 L822.4 747.1 L823.9 748.0 L824.8 749.5 L826.3 750.4 L828.4 749.5 L830.8 750.1 L834.4 750.9"/>
<path d="M834.7 818.1 L829.3 818.7 L824.8 819.4 L821.2 818.9 L817.6 818.0 L813.1 816.7 L808.6 816.0 L803.2 816.5 L797.8 816.9 L793.7 817.1 L791.5 815.1 L788.8 814.2 L785.6 814.4 L782.5 816.0 L781.4 817.6 L781.6 819.4 L779.3 820.5 L775.7 820.7 L772.6 822.1 L770.8 824.3 L771.0 827.0 L773.0 828.8 L773.9 830.6 L773.5 832.0 L775.7 831.5 L776.4 833.8 L776.2 836.0 L776.6 837.4 L774.8 839.6 L774.8 841.9 L775.3 844.6 L776.4 848.2 L776.9 851.8 L777.3 855.4 L776.9 859.0 L776.0 862.6 L775.1 866.2 L774.4 869.8 L773.3 873.4 L771.7 876.5 L769.7 879.2 L769.0 882.4 L768.5 885.5 L768.5 887.8 L770.3 888.7 L772.6 887.8 L773.7 885.5 L774.4 883.7 L775.7 882.6"/>
<path d="M554.2 890.0 L555.8 889.1 L557.2 890.0"/>
<path d="M560.2 887.5 L563.2 888.6 L565.9 889.7"/>
<path d="M571.1 887.9 L572.6 886.6 L574.4 887.9 L573.8 889.6 L571.6 889.4Z"/>
<path d="M790.8 622.4 L791.2 624.1 L790.8 625.8 L789.8 627.4 L788.2 628.1 L785.8 628.4 L785.5 629.4 L787.2 629.8 L787.8 631.1 L786.2 632.1 L783.8 632.8 L782.8 633.8 L783.5 635.1 L784.8 636.5 L786.2 638.5 L787.8 638.8 L789.2 639.5 L791.5 639.5 L793.2 638.5 L793.9 637.1 L793.5 635.5 L794.9 634.5 L796.2 634.5 L797.2 636.1 L797.9 638.5 L799.6 638.8 L799.9 641.2 L801.9 640.8 L804.6 640.5 L805.3 641.5"/>
<path d="M774.8 841.4 L776.6 840.1 L779.3 839.0 L782.0 838.5 L782.9 840.1 L782.5 842.3 L784.7 842.8 L787.9 842.1 L791.0 842.8 L793.7 841.0 L796.9 841.2 L800.5 841.4 L800.9 844.6 L803.6 845.9 L804.5 847.3 L802.3 849.5 L799.6 851.8 L796.4 854.5 L796.9 857.2 L797.6 860.8 L797.3 864.4 L795.5 866.6 L796.0 868.9 L796.9 870.2 L796.4 872.5 L794.6 874.3 L791.9 874.5 L789.7 874.7 L791.0 877.4 L792.4 880.6 L794.6 881.9 L796.0 883.3 L795.1 885.5 L792.8 887.8 L792.2 890.5"/>
</g>
<circle cx="790.2" cy="584.1" r="1.1" fill="#000"/>
<circle cx="802.8" cy="583.8" r="1.2" fill="#000"/>
<circle cx="528.5" cy="877.9" r="1.1" fill="#000"/>
<g class="g">
<line x1="432.50" y1="321.50" x2="432.50" y2="890.50"/>
<line x1="487.50" y1="321.50" x2="487.50" y2="890.50"/>
<line x1="542.50" y1="321.50" x2="542.50" y2="890.50"/>
<line x1="597.50" y1="321.50" x2="597.50" y2="890.50"/>
<line x1="652.50" y1="321.50" x2="652.50" y2="890.50"/>
<line x1="707.50" y1="321.50" x2="707.50" y2="890.50"/>
<line x1="763.50" y1="321.50" x2="763.50" y2="890.50"/>
<line x1="818.50" y1="321.50" x2="818.50" y2="890.50"/>
<line x1="397.50" y1="401.50" x2="833.50" y2="401.50"/>
<line x1="397.50" y1="521.50" x2="833.50" y2="521.50"/>
<line x1="397.50" y1="623.50" x2="833.50" y2="623.50"/>
<line x1="397.50" y1="714.50" x2="833.50" y2="714.50"/>
<line x1="397.50" y1="795.50" x2="833.50" y2="795.50"/>
<line x1="397.50" y1="870.50" x2="833.50" y2="870.50"/>
</g>
<g stroke="#000" fill="none" stroke-linecap="butt">
<path d="M683.3 389.1 L693.7 389.1" stroke-width="1.8"/>
<path d="M683.6 389.1 L679.6 400.3 M693.4 389.1 L697.4 400.3" stroke-width="1.45"/>
<path d="M679.2 400.4 L686.2 400.4 M690.9 400.4 L697.8 400.4" stroke-width="2.7"/>
<path d="M683.2 388.6 L681.2 382.2 M688.4 389 L688.4 382.2 M693.9 388.6 L695.9 382.2" stroke-width="1.7"/>
</g>
</g>
<rect x="397.50" y="321.50" width="436.00" height="569.00" fill="none" stroke="#000" stroke-width="1.15"/>
<text x="405.65" y="310.00" font-size="19.55" textLength="12.28" lengthAdjust="spacingAndGlyphs">4</text>
<text x="417.93" y="310.00" font-size="19.55" textLength="12.28" lengthAdjust="spacingAndGlyphs">0</text>
<text x="430.21" y="310.00" font-size="19.55" textLength="9.65" lengthAdjust="spacingAndGlyphs">°</text>
<text x="439.86" y="310.00" font-size="19.55" textLength="19.08" lengthAdjust="spacingAndGlyphs">W</text>
<text x="405.65" y="912.00" font-size="19.55" textLength="12.28" lengthAdjust="spacingAndGlyphs">4</text>
<text x="417.93" y="912.00" font-size="19.55" textLength="12.28" lengthAdjust="spacingAndGlyphs">0</text>
<text x="430.21" y="912.00" font-size="19.55" textLength="9.65" lengthAdjust="spacingAndGlyphs">°</text>
<text x="439.86" y="912.00" font-size="19.55" textLength="19.08" lengthAdjust="spacingAndGlyphs">W</text>
<text x="460.65" y="310.00" font-size="19.55" textLength="12.28" lengthAdjust="spacingAndGlyphs">3</text>
<text x="472.93" y="310.00" font-size="19.55" textLength="12.28" lengthAdjust="spacingAndGlyphs">5</text>
<text x="485.21" y="310.00" font-size="19.55" textLength="9.65" lengthAdjust="spacingAndGlyphs">°</text>
<text x="494.86" y="310.00" font-size="19.55" textLength="19.08" lengthAdjust="spacingAndGlyphs">W</text>
<text x="460.65" y="912.00" font-size="19.55" textLength="12.28" lengthAdjust="spacingAndGlyphs">3</text>
<text x="472.93" y="912.00" font-size="19.55" textLength="12.28" lengthAdjust="spacingAndGlyphs">5</text>
<text x="485.21" y="912.00" font-size="19.55" textLength="9.65" lengthAdjust="spacingAndGlyphs">°</text>
<text x="494.86" y="912.00" font-size="19.55" textLength="19.08" lengthAdjust="spacingAndGlyphs">W</text>
<text x="515.65" y="310.00" font-size="19.55" textLength="12.28" lengthAdjust="spacingAndGlyphs">3</text>
<text x="527.93" y="310.00" font-size="19.55" textLength="12.28" lengthAdjust="spacingAndGlyphs">0</text>
<text x="540.21" y="310.00" font-size="19.55" textLength="9.65" lengthAdjust="spacingAndGlyphs">°</text>
<text x="549.86" y="310.00" font-size="19.55" textLength="19.08" lengthAdjust="spacingAndGlyphs">W</text>
<text x="515.65" y="912.00" font-size="19.55" textLength="12.28" lengthAdjust="spacingAndGlyphs">3</text>
<text x="527.93" y="912.00" font-size="19.55" textLength="12.28" lengthAdjust="spacingAndGlyphs">0</text>
<text x="540.21" y="912.00" font-size="19.55" textLength="9.65" lengthAdjust="spacingAndGlyphs">°</text>
<text x="549.86" y="912.00" font-size="19.55" textLength="19.08" lengthAdjust="spacingAndGlyphs">W</text>
<text x="570.65" y="310.00" font-size="19.55" textLength="12.28" lengthAdjust="spacingAndGlyphs">2</text>
<text x="582.93" y="310.00" font-size="19.55" textLength="12.28" lengthAdjust="spacingAndGlyphs">5</text>
<text x="595.21" y="310.00" font-size="19.55" textLength="9.65" lengthAdjust="spacingAndGlyphs">°</text>
<text x="604.86" y="310.00" font-size="19.55" textLength="19.08" lengthAdjust="spacingAndGlyphs">W</text>
<text x="570.65" y="912.00" font-size="19.55" textLength="12.28" lengthAdjust="spacingAndGlyphs">2</text>
<text x="582.93" y="912.00" font-size="19.55" textLength="12.28" lengthAdjust="spacingAndGlyphs">5</text>
<text x="595.21" y="912.00" font-size="19.55" textLength="9.65" lengthAdjust="spacingAndGlyphs">°</text>
<text x="604.86" y="912.00" font-size="19.55" textLength="19.08" lengthAdjust="spacingAndGlyphs">W</text>
<text x="625.65" y="310.00" font-size="19.55" textLength="12.28" lengthAdjust="spacingAndGlyphs">2</text>
<text x="637.93" y="310.00" font-size="19.55" textLength="12.28" lengthAdjust="spacingAndGlyphs">0</text>
<text x="650.21" y="310.00" font-size="19.55" textLength="9.65" lengthAdjust="spacingAndGlyphs">°</text>
<text x="659.86" y="310.00" font-size="19.55" textLength="19.08" lengthAdjust="spacingAndGlyphs">W</text>
<text x="625.65" y="912.00" font-size="19.55" textLength="12.28" lengthAdjust="spacingAndGlyphs">2</text>
<text x="637.93" y="912.00" font-size="19.55" textLength="12.28" lengthAdjust="spacingAndGlyphs">0</text>
<text x="650.21" y="912.00" font-size="19.55" textLength="9.65" lengthAdjust="spacingAndGlyphs">°</text>
<text x="659.86" y="912.00" font-size="19.55" textLength="19.08" lengthAdjust="spacingAndGlyphs">W</text>
<text x="680.65" y="310.00" font-size="19.55" textLength="12.28" lengthAdjust="spacingAndGlyphs">1</text>
<text x="692.93" y="310.00" font-size="19.55" textLength="12.28" lengthAdjust="spacingAndGlyphs">5</text>
<text x="705.21" y="310.00" font-size="19.55" textLength="9.65" lengthAdjust="spacingAndGlyphs">°</text>
<text x="714.86" y="310.00" font-size="19.55" textLength="19.08" lengthAdjust="spacingAndGlyphs">W</text>
<text x="680.65" y="912.00" font-size="19.55" textLength="12.28" lengthAdjust="spacingAndGlyphs">1</text>
<text x="692.93" y="912.00" font-size="19.55" textLength="12.28" lengthAdjust="spacingAndGlyphs">5</text>
<text x="705.21" y="912.00" font-size="19.55" textLength="9.65" lengthAdjust="spacingAndGlyphs">°</text>
<text x="714.86" y="912.00" font-size="19.55" textLength="19.08" lengthAdjust="spacingAndGlyphs">W</text>
<text x="736.65" y="310.00" font-size="19.55" textLength="12.28" lengthAdjust="spacingAndGlyphs">1</text>
<text x="748.93" y="310.00" font-size="19.55" textLength="12.28" lengthAdjust="spacingAndGlyphs">0</text>
<text x="761.21" y="310.00" font-size="19.55" textLength="9.65" lengthAdjust="spacingAndGlyphs">°</text>
<text x="770.86" y="310.00" font-size="19.55" textLength="19.08" lengthAdjust="spacingAndGlyphs">W</text>
<text x="736.65" y="912.00" font-size="19.55" textLength="12.28" lengthAdjust="spacingAndGlyphs">1</text>
<text x="748.93" y="912.00" font-size="19.55" textLength="12.28" lengthAdjust="spacingAndGlyphs">0</text>
<text x="761.21" y="912.00" font-size="19.55" textLength="9.65" lengthAdjust="spacingAndGlyphs">°</text>
<text x="770.86" y="912.00" font-size="19.55" textLength="19.08" lengthAdjust="spacingAndGlyphs">W</text>
<text x="797.79" y="310.00" font-size="19.55" textLength="12.28" lengthAdjust="spacingAndGlyphs">5</text>
<text x="810.07" y="310.00" font-size="19.55" textLength="9.65" lengthAdjust="spacingAndGlyphs">°</text>
<text x="819.72" y="310.00" font-size="19.55" textLength="19.08" lengthAdjust="spacingAndGlyphs">W</text>
<text x="797.79" y="912.00" font-size="19.55" textLength="12.28" lengthAdjust="spacingAndGlyphs">5</text>
<text x="810.07" y="912.00" font-size="19.55" textLength="9.65" lengthAdjust="spacingAndGlyphs">°</text>
<text x="819.72" y="912.00" font-size="19.55" textLength="19.08" lengthAdjust="spacingAndGlyphs">W</text>
<text x="340.05" y="406.00" font-size="19.55" textLength="12.28" lengthAdjust="spacingAndGlyphs">6</text>
<text x="352.33" y="406.00" font-size="19.55" textLength="12.28" lengthAdjust="spacingAndGlyphs">5</text>
<text x="364.61" y="406.00" font-size="19.55" textLength="9.65" lengthAdjust="spacingAndGlyphs">°</text>
<text x="374.26" y="406.00" font-size="19.55" textLength="14.44" lengthAdjust="spacingAndGlyphs">N</text>
<text x="840.70" y="406.00" font-size="19.55" textLength="12.28" lengthAdjust="spacingAndGlyphs">6</text>
<text x="852.98" y="406.00" font-size="19.55" textLength="12.28" lengthAdjust="spacingAndGlyphs">5</text>
<text x="865.26" y="406.00" font-size="19.55" textLength="9.65" lengthAdjust="spacingAndGlyphs">°</text>
<text x="874.91" y="406.00" font-size="19.55" textLength="14.44" lengthAdjust="spacingAndGlyphs">N</text>
<text x="340.05" y="526.00" font-size="19.55" textLength="12.28" lengthAdjust="spacingAndGlyphs">6</text>
<text x="352.33" y="526.00" font-size="19.55" textLength="12.28" lengthAdjust="spacingAndGlyphs">0</text>
<text x="364.61" y="526.00" font-size="19.55" textLength="9.65" lengthAdjust="spacingAndGlyphs">°</text>
<text x="374.26" y="526.00" font-size="19.55" textLength="14.44" lengthAdjust="spacingAndGlyphs">N</text>
<text x="840.70" y="526.00" font-size="19.55" textLength="12.28" lengthAdjust="spacingAndGlyphs">6</text>
<text x="852.98" y="526.00" font-size="19.55" textLength="12.28" lengthAdjust="spacingAndGlyphs">0</text>
<text x="865.26" y="526.00" font-size="19.55" textLength="9.65" lengthAdjust="spacingAndGlyphs">°</text>
<text x="874.91" y="526.00" font-size="19.55" textLength="14.44" lengthAdjust="spacingAndGlyphs">N</text>
<text x="340.05" y="629.00" font-size="19.55" textLength="12.28" lengthAdjust="spacingAndGlyphs">5</text>
<text x="352.33" y="629.00" font-size="19.55" textLength="12.28" lengthAdjust="spacingAndGlyphs">5</text>
<text x="364.61" y="629.00" font-size="19.55" textLength="9.65" lengthAdjust="spacingAndGlyphs">°</text>
<text x="374.26" y="629.00" font-size="19.55" textLength="14.44" lengthAdjust="spacingAndGlyphs">N</text>
<text x="840.70" y="629.00" font-size="19.55" textLength="12.28" lengthAdjust="spacingAndGlyphs">5</text>
<text x="852.98" y="629.00" font-size="19.55" textLength="12.28" lengthAdjust="spacingAndGlyphs">5</text>
<text x="865.26" y="629.00" font-size="19.55" textLength="9.65" lengthAdjust="spacingAndGlyphs">°</text>
<text x="874.91" y="629.00" font-size="19.55" textLength="14.44" lengthAdjust="spacingAndGlyphs">N</text>
<text x="340.05" y="719.00" font-size="19.55" textLength="12.28" lengthAdjust="spacingAndGlyphs">5</text>
<text x="352.33" y="719.00" font-size="19.55" textLength="12.28" lengthAdjust="spacingAndGlyphs">0</text>
<text x="364.61" y="719.00" font-size="19.55" textLength="9.65" lengthAdjust="spacingAndGlyphs">°</text>
<text x="374.26" y="719.00" font-size="19.55" textLength="14.44" lengthAdjust="spacingAndGlyphs">N</text>
<text x="840.70" y="719.00" font-size="19.55" textLength="12.28" lengthAdjust="spacingAndGlyphs">5</text>
<text x="852.98" y="719.00" font-size="19.55" textLength="12.28" lengthAdjust="spacingAndGlyphs">0</text>
<text x="865.26" y="719.00" font-size="19.55" textLength="9.65" lengthAdjust="spacingAndGlyphs">°</text>
<text x="874.91" y="719.00" font-size="19.55" textLength="14.44" lengthAdjust="spacingAndGlyphs">N</text>
<text x="340.05" y="801.00" font-size="19.55" textLength="12.28" lengthAdjust="spacingAndGlyphs">4</text>
<text x="352.33" y="801.00" font-size="19.55" textLength="12.28" lengthAdjust="spacingAndGlyphs">5</text>
<text x="364.61" y="801.00" font-size="19.55" textLength="9.65" lengthAdjust="spacingAndGlyphs">°</text>
<text x="374.26" y="801.00" font-size="19.55" textLength="14.44" lengthAdjust="spacingAndGlyphs">N</text>
<text x="840.70" y="801.00" font-size="19.55" textLength="12.28" lengthAdjust="spacingAndGlyphs">4</text>
<text x="852.98" y="801.00" font-size="19.55" textLength="12.28" lengthAdjust="spacingAndGlyphs">5</text>
<text x="865.26" y="801.00" font-size="19.55" textLength="9.65" lengthAdjust="spacingAndGlyphs">°</text>
<text x="874.91" y="801.00" font-size="19.55" textLength="14.44" lengthAdjust="spacingAndGlyphs">N</text>
<text x="340.05" y="875.00" font-size="19.55" textLength="12.28" lengthAdjust="spacingAndGlyphs">4</text>
<text x="352.33" y="875.00" font-size="19.55" textLength="12.28" lengthAdjust="spacingAndGlyphs">0</text>
<text x="364.61" y="875.00" font-size="19.55" textLength="9.65" lengthAdjust="spacingAndGlyphs">°</text>
<text x="374.26" y="875.00" font-size="19.55" textLength="14.44" lengthAdjust="spacingAndGlyphs">N</text>
<text x="840.70" y="875.00" font-size="19.55" textLength="12.28" lengthAdjust="spacingAndGlyphs">4</text>
<text x="852.98" y="875.00" font-size="19.55" textLength="12.28" lengthAdjust="spacingAndGlyphs">0</text>
<text x="865.26" y="875.00" font-size="19.55" textLength="9.65" lengthAdjust="spacingAndGlyphs">°</text>
<text x="874.91" y="875.00" font-size="19.55" textLength="14.44" lengthAdjust="spacingAndGlyphs">N</text>
<text x="61.07" y="975.00" font-size="14.48" textLength="11.15" lengthAdjust="spacingAndGlyphs">©</text>
<text x="78.04" y="975.00" font-size="14.20" textLength="12.03" lengthAdjust="spacingAndGlyphs">M</text>
<text x="90.07" y="975.00" font-size="14.20" textLength="8.58" lengthAdjust="spacingAndGlyphs">e</text>
<text x="98.65" y="975.00" font-size="14.20" textLength="5.47" lengthAdjust="spacingAndGlyphs">t</text>
<text x="108.54" y="975.00" font-size="14.20" textLength="10.97" lengthAdjust="spacingAndGlyphs">O</text>
<text x="119.51" y="975.00" font-size="14.20" textLength="4.91" lengthAdjust="spacingAndGlyphs">f</text>
<text x="124.42" y="975.00" font-size="14.20" textLength="4.91" lengthAdjust="spacingAndGlyphs">f</text>
<text x="129.33" y="975.00" font-size="14.20" textLength="3.87" lengthAdjust="spacingAndGlyphs">i</text>
<text x="133.20" y="975.00" font-size="14.20" textLength="7.66" lengthAdjust="spacingAndGlyphs">c</text>
<text x="140.87" y="975.00" font-size="14.20" textLength="8.58" lengthAdjust="spacingAndGlyphs">e</text>
<text x="153.87" y="975.00" font-size="14.20" textLength="9.73" lengthAdjust="spacingAndGlyphs">C</text>
<text x="163.60" y="975.00" font-size="14.20" textLength="5.73" lengthAdjust="spacingAndGlyphs">r</text>
<text x="169.03" y="975.00" font-size="14.20" textLength="8.53" lengthAdjust="spacingAndGlyphs">o</text>
<text x="177.56" y="975.00" font-size="14.20" textLength="11.40" lengthAdjust="spacingAndGlyphs">w</text>
<text x="188.96" y="975.00" font-size="14.20" textLength="8.83" lengthAdjust="spacingAndGlyphs">n</text>
<text x="202.22" y="975.00" font-size="14.20" textLength="9.73" lengthAdjust="spacingAndGlyphs">C</text>
<text x="211.96" y="975.00" font-size="14.20" textLength="8.53" lengthAdjust="spacingAndGlyphs">o</text>
<text x="220.48" y="975.00" font-size="14.20" textLength="8.85" lengthAdjust="spacingAndGlyphs">p</text>
<text x="229.33" y="975.00" font-size="14.20" textLength="8.25" lengthAdjust="spacingAndGlyphs">y</text>
<text x="237.58" y="975.00" font-size="14.20" textLength="5.73" lengthAdjust="spacingAndGlyphs">r</text>
<text x="243.31" y="975.00" font-size="14.20" textLength="3.87" lengthAdjust="spacingAndGlyphs">i</text>
<text x="247.19" y="975.00" font-size="14.20" textLength="8.85" lengthAdjust="spacingAndGlyphs">g</text>
<text x="256.03" y="975.00" font-size="14.20" textLength="8.83" lengthAdjust="spacingAndGlyphs">h</text>
<text x="264.87" y="975.00" font-size="14.20" textLength="5.47" lengthAdjust="spacingAndGlyphs">t</text>
</svg>
</body></html>
